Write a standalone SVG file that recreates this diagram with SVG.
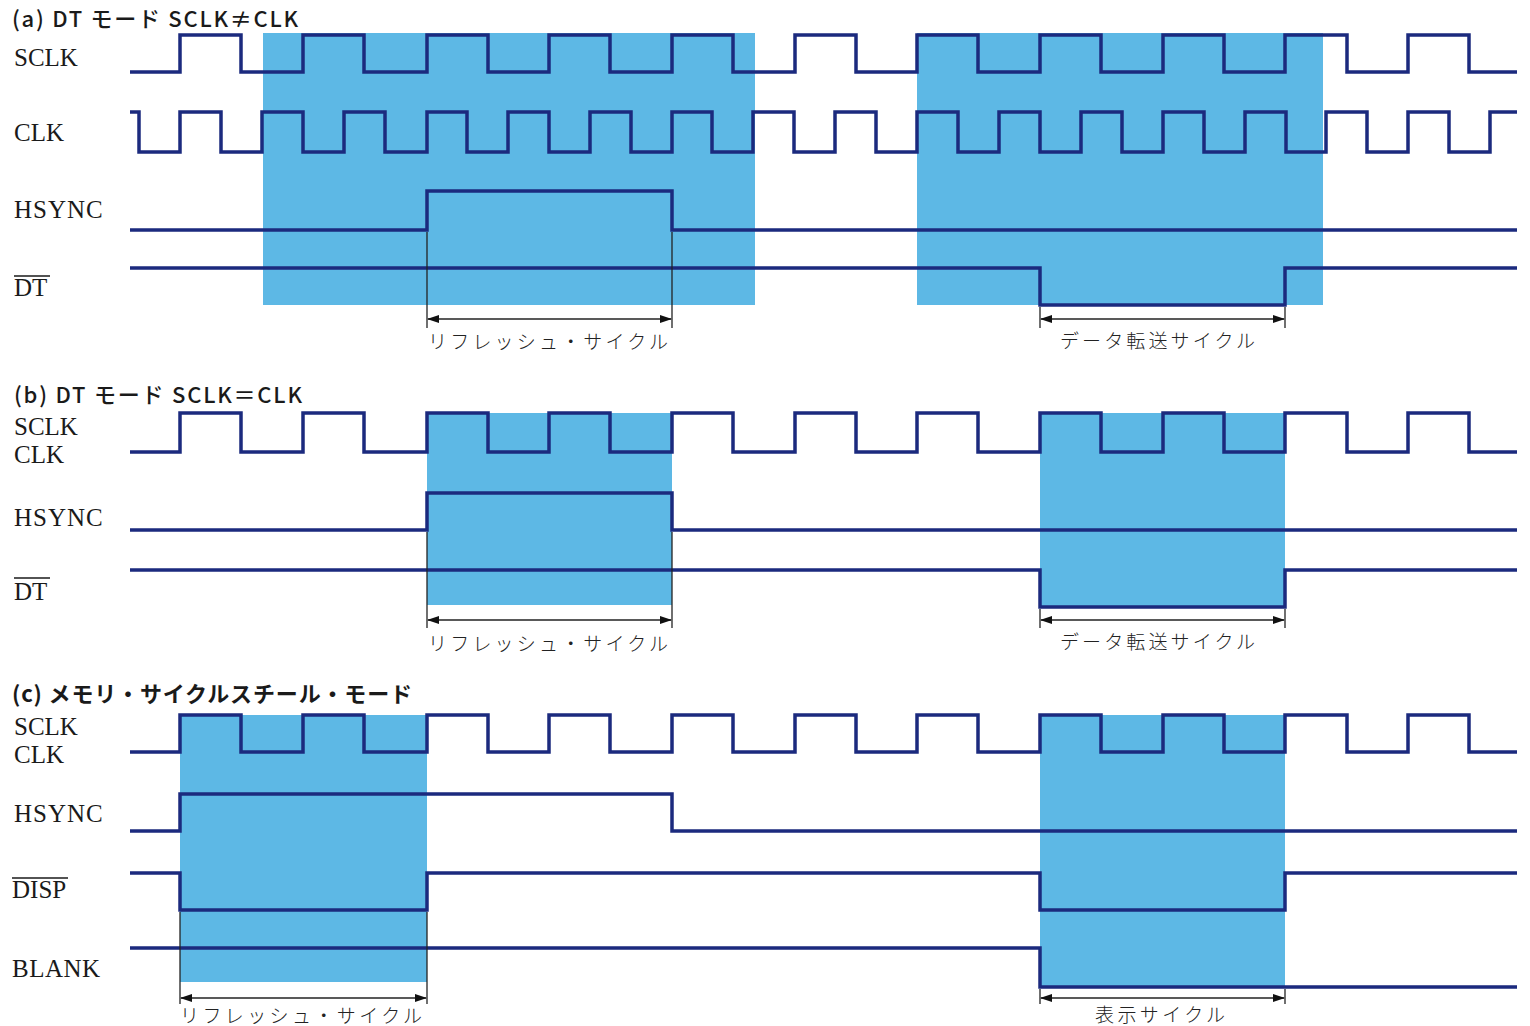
<svg xmlns="http://www.w3.org/2000/svg" width="1530" height="1026" viewBox="0 0 1530 1026">
<style>
.bg{fill:#ffffff}
.hl{fill:#5db8e5}
.w{fill:none;stroke:#1b2a7e;stroke-width:3.5;stroke-linejoin:miter;stroke-linecap:butt}
.lbl{font-family:"Liberation Serif","DejaVu Serif",serif;font-size:25px;fill:#1a1a1a}
.ttl{font-family:"Noto Sans CJK JP","Noto Sans",sans-serif;font-size:22px;fill:#1a1a1a;font-weight:500}
.jp{font-family:"Noto Sans CJK JP",sans-serif;font-size:19px;fill:#222;font-weight:300}
.ov{stroke:#1a1a1a;stroke-width:1.3}
.dim{fill:none;stroke:#222;stroke-width:1.3}
</style>
<defs>
<marker id="ah" viewBox="0 0 12 8" refX="11" refY="4" markerWidth="12" markerHeight="8" markerUnits="userSpaceOnUse" orient="auto-start-reverse">
<path d="M0,0 L12,4 L0,8 z" fill="#111"/>
</marker>
</defs>
<rect class="bg" x="0" y="0" width="1530" height="1026"/>

<!-- highlight areas -->
<g id="highlights">
<rect class="hl" x="263" y="33" width="492" height="272"/>
<rect class="hl" x="917" y="33" width="406" height="272"/>
<rect class="hl" x="427" y="413" width="245" height="192"/>
<rect class="hl" x="1040" y="413" width="245" height="194"/>
<rect class="hl" x="180" y="715" width="247" height="267"/>
<rect class="hl" x="1040" y="715" width="245" height="272"/>
</g>

<!-- titles -->
<g id="title-a"><text class="ttl" x="12" y="27" textLength="286">(a) DT モード SCLK≠CLK</text></g>
<g id="title-b"><text class="ttl" x="14" y="403" textLength="288">(b) DT モード SCLK＝CLK</text></g>
<g id="title-c"><text class="ttl" x="12" y="702" textLength="400" style="font-weight:700">(c) メモリ・サイクルスチール・モード</text></g>

<!-- (a) -->
<g id="a-sclk">
<text class="lbl" x="14" y="66">SCLK</text>
<path class="w" d="M130,72 H180 V35 H241 V72 H303 V35 H364 V72 H427 V35 H488 V72 H549 V35 H610 V72 H672 V35 H733 V72 H795 V35 H856 V72 H917 V35 H978 V72 H1040 V35 H1101 V72 H1163 V35 H1224 V72 H1285 V35 H1347 V72 H1408 V35 H1469 V72 H1517"/>
</g>
<g id="a-clk">
<text class="lbl" x="14" y="141">CLK</text>
<path class="w" d="M130,112 H139 V152 H180 V112 H221 V152 H262 V112 H303 V152 H344 V112 H385 V152 H427 V112 H467 V152 H508 V112 H549 V152 H590 V112 H631 V152 H672 V112 H712 V152 H753 V112 H794 V152 H835 V112 H876 V152 H917 V112 H958 V152 H999 V112 H1040 V152 H1081 V112 H1122 V152 H1163 V112 H1204 V152 H1245 V112 H1286 V152 H1326 V112 H1367 V152 H1408 V112 H1449 V152 H1490 V112 H1517"/>
</g>
<g id="a-hsync">
<text class="lbl" x="14" y="218" style="letter-spacing:1px">HSYNC</text>
<path class="w" d="M130,230 H427 V191 H672 V230 H1517"/>
</g>
<g id="a-dt">
<text class="lbl" x="14" y="296">DT</text>
<line class="ov" x1="14" y1="276" x2="50" y2="276"/>
<path class="w" d="M130,268 H1040 V305 H1285 V268 H1517"/>
</g>

<!-- (b) -->
<g id="b-clk">
<text class="lbl" x="14" y="435">SCLK</text>
<text class="lbl" x="14" y="463">CLK</text>
<path class="w" d="M130,452 H180 V413 H241 V452 H303 V413 H364 V452 H427 V413 H488 V452 H549 V413 H610 V452 H672 V413 H733 V452 H795 V413 H856 V452 H917 V413 H978 V452 H1040 V413 H1101 V452 H1163 V413 H1224 V452 H1285 V413 H1347 V452 H1408 V413 H1469 V452 H1517"/>
</g>
<g id="b-hsync">
<text class="lbl" x="14" y="526" style="letter-spacing:1px">HSYNC</text>
<path class="w" d="M130,530 H427 V493 H672 V530 H1517"/>
</g>
<g id="b-dt">
<text class="lbl" x="14" y="600">DT</text>
<line class="ov" x1="14" y1="578" x2="50" y2="578"/>
<path class="w" d="M130,570 H1040 V607 H1285 V570 H1517"/>
</g>

<!-- (c) -->
<g id="c-clk">
<text class="lbl" x="14" y="735">SCLK</text>
<text class="lbl" x="14" y="763">CLK</text>
<path class="w" d="M130,752 H180 V715 H241 V752 H303 V715 H364 V752 H427 V715 H488 V752 H549 V715 H610 V752 H672 V715 H733 V752 H795 V715 H856 V752 H917 V715 H978 V752 H1040 V715 H1101 V752 H1163 V715 H1224 V752 H1285 V715 H1347 V752 H1408 V715 H1469 V752 H1517"/>
</g>
<g id="c-hsync">
<text class="lbl" x="14" y="822" style="letter-spacing:1px">HSYNC</text>
<path class="w" d="M130,831 H180 V794 H672 V831 H1517"/>
</g>
<g id="c-disp">
<text class="lbl" x="12" y="898">DISP</text>
<line class="ov" x1="12" y1="878" x2="68" y2="878"/>
<path class="w" d="M130,873 H180 V910 H427 V873 H1040 V910 H1285 V873 H1517"/>
</g>
<g id="c-blank">
<text class="lbl" x="12" y="977" style="letter-spacing:0.5px">BLANK</text>
<path class="w" d="M130,948 H1040 V987 H1517"/>
</g>

<!-- dimension connectors -->
<g id="connectors">
<line class="dim" x1="427" y1="232" x2="427" y2="328"/>
<line class="dim" x1="672" y1="232" x2="672" y2="328"/>
<line class="dim" x1="428" y1="319" x2="671" y2="319" marker-start="url(#ah)" marker-end="url(#ah)"/>
<line class="dim" x1="1040" y1="307" x2="1040" y2="328"/>
<line class="dim" x1="1285" y1="307" x2="1285" y2="328"/>
<line class="dim" x1="1041" y1="319" x2="1284" y2="319" marker-start="url(#ah)" marker-end="url(#ah)"/>

<line class="dim" x1="427" y1="532" x2="427" y2="628"/>
<line class="dim" x1="672" y1="532" x2="672" y2="628"/>
<line class="dim" x1="428" y1="620" x2="671" y2="620" marker-start="url(#ah)" marker-end="url(#ah)"/>
<line class="dim" x1="1040" y1="609" x2="1040" y2="628"/>
<line class="dim" x1="1285" y1="609" x2="1285" y2="628"/>
<line class="dim" x1="1041" y1="620" x2="1284" y2="620" marker-start="url(#ah)" marker-end="url(#ah)"/>

<line class="dim" x1="180" y1="912" x2="180" y2="1004"/>
<line class="dim" x1="427" y1="912" x2="427" y2="1004"/>
<line class="dim" x1="181" y1="998" x2="426" y2="998" marker-start="url(#ah)" marker-end="url(#ah)"/>
<line class="dim" x1="1040" y1="989" x2="1040" y2="1004"/>
<line class="dim" x1="1285" y1="989" x2="1285" y2="1004"/>
<line class="dim" x1="1041" y1="998" x2="1284" y2="998" marker-start="url(#ah)" marker-end="url(#ah)"/>
</g>

<g id="dim-labels">
<text class="jp" x="428" y="349" textLength="240">リフレッシュ・サイクル</text>
<text class="jp" x="1060" y="348" textLength="195">データ転送サイクル</text>
<text class="jp" x="428" y="651" textLength="240">リフレッシュ・サイクル</text>
<text class="jp" x="1060" y="649" textLength="195">データ転送サイクル</text>
<text class="jp" x="180" y="1023" textLength="242">リフレッシュ・サイクル</text>
<text class="jp" x="1095" y="1022" textLength="130">表示サイクル</text>
</g>
</svg>
